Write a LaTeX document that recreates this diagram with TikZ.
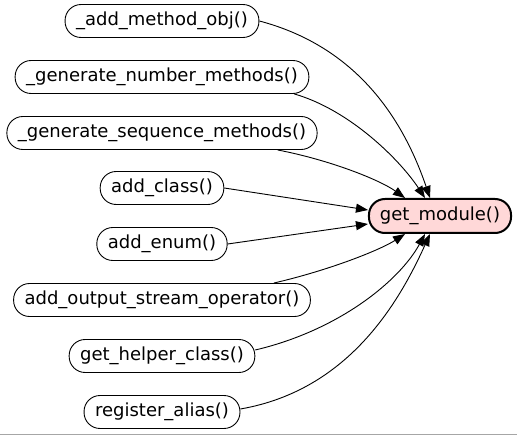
\documentclass[tikz,border=0pt]{standalone}
\usepackage{fontspec}
\setmainfont{DejaVu Sans}
\usetikzlibrary{arrows.meta}
\definecolor{hl}{RGB}{255,216,216}
\tikzset{
  fn/.style={draw=black, line width=0.9pt, rounded corners=16pt, minimum height=33pt, inner xsep=11pt, font=\fontsize{18}{21}\selectfont, anchor=center},
  cur/.style={fn, fill=hl, line width=2pt, minimum height=34pt},
  edge/.style={draw=black, line width=0.9pt, -{Triangle[length=12pt,width=9pt]}}
}
\begin{document}
\begin{tikzpicture}[x=1pt,y=-1pt]
\useasboundingbox (0,0) rectangle (517,435);
\node[fn] (a) at (162,21) {\_add\_method\_obj()};
\node[fn] (b) at (162,77) {\_generate\_number\_methods()};
\node[fn] (c) at (162,133) {\_generate\_sequence\_methods()};
\node[fn] (d) at (162,188) {add\_class()};
\node[fn] (e) at (162,244) {add\_enum()};
\node[fn] (f) at (162,300) {add\_output\_stream\_operator()};
\node[fn] (g) at (162,356) {get\_helper\_class()};
\node[fn] (h) at (162,412) {register\_alias()};
\node[cur] (m) at (440,216) {get\_module()};
\draw[edge] (a.east) .. controls (350,45) and (400,110) .. (m.north west -| 430,0);
\draw[edge] (b.south east) ++(-15,0) .. controls (350,110) and (400,160) .. ([xshift=-15pt]m.north);
\draw[edge] (c.south east) ++(-40,0) .. controls (330,160) and (380,180) .. ([xshift=-35pt]m.north);
\draw[edge] (d.east) -- (m.west |- 0,210);
\draw[edge] (e.east) -- (m.west |- 0,224);
\draw[edge] (f.north east) ++(-37,0) .. controls (330,270) and (380,250) .. ([xshift=-35pt]m.south);
\draw[edge] (g.east) ++(0,-6) .. controls (340,330) and (400,280) .. ([xshift=-15pt]m.south);
\draw[edge] (h.east) ++(0,-3) .. controls (350,390) and (400,300) .. ([xshift=-10pt]m.south);
\draw[gray!70, line width=1pt] (0,434.5) -- (517,434.5);
\end{tikzpicture}
\end{document}
